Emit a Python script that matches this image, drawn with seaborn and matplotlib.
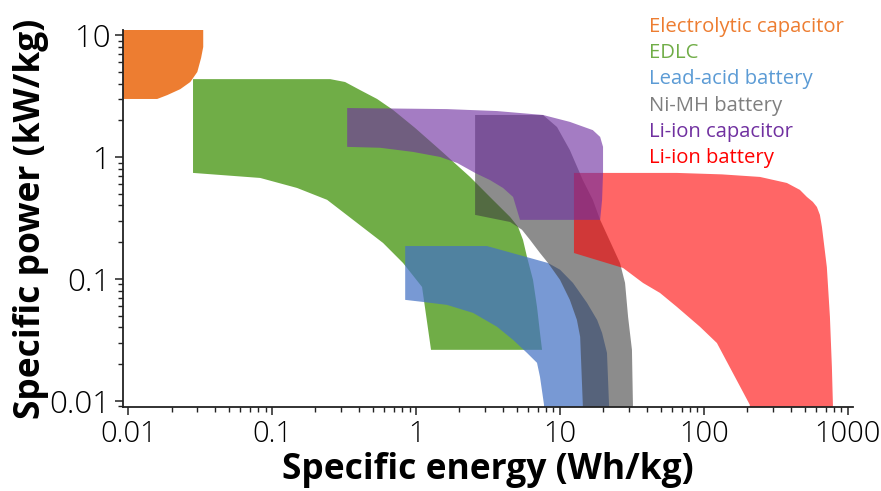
import matplotlib
matplotlib.use("Agg")
import matplotlib.pyplot as plt
from matplotlib.ticker import LogLocator, FuncFormatter, NullFormatter
import seaborn as sns

# Ragone plot: specific energy (Wh/kg) vs specific power (kW/kg)
series_names = ["Electrolytic capacitor", "EDLC", "Lead-acid battery",
                "Ni-MH battery", "Li-ion capacitor", "Li-ion battery"]

electrolytic_energy = [0.0092, 0.0332, 0.0332, 0.0321, 0.0302, 0.0270, 0.0230, 0.0187, 0.0159, 0.0092]
electrolytic_power = [11.0, 11.0, 7.98, 6.5, 4.98, 4.12, 3.6, 3.22, 2.99, 2.99]

edlc_energy = [0.0282, 0.253, 0.321, 0.408, 0.536, 0.692, 0.984, 1.47, 2.37, 3.26, 4.50, 5.11, 5.53,
               5.90, 6.49, 6.92, 7.26, 7.50, 1.27, 1.10, 0.812, 0.590, 0.365, 0.241, 0.149, 0.0826,
               0.0282]
edlc_power = [4.35, 4.35, 4.12, 3.54, 2.99, 2.43, 1.73, 1.14, 0.686, 0.470, 0.322, 0.267, 0.209,
              0.151, 0.0982, 0.0589, 0.0360, 0.0262, 0.0262, 0.0859, 0.135, 0.197, 0.305, 0.445,
              0.557, 0.673, 0.740]

lead_energy = [0.84, 3.11, 8.26, 10.0, 12.3, 15.4, 18.1, 19.6, 21.2, 21.9, 21.9, 7.74, 7.74,
               7.26, 6.92, 5.90, 4.72, 3.65, 2.49, 1.64, 1.12, 0.84]
lead_power = [0.186, 0.186, 0.135, 0.119, 0.0927, 0.0636, 0.0461, 0.0360, 0.0247, 0.0093, 0.0085,
              0.0085, 0.0093, 0.0157, 0.0205, 0.0247, 0.0316, 0.0405, 0.0526, 0.0612, 0.0647, 0.0673]

nimh_energy = [2.57, 7.62, 9.53, 11.7, 14.4, 16.9, 19.0, 26.1, 28.3, 29.7, 31.6, 32.1, 32.1, 14.4,
               14.4, 13.8, 13.1, 11.7, 10.0, 8.26, 7.26, 6.19, 5.44, 4.50, 2.57]
nimh_power = [2.21, 2.21, 1.76, 1.14, 0.647, 0.445, 0.305, 0.135, 0.0927, 0.0489, 0.0262, 0.0093,
              0.0085, 0.0085, 0.0093, 0.0335, 0.0461, 0.0673, 0.0982, 0.135, 0.163, 0.209, 0.253,
              0.293, 0.335]

licap_energy = [0.332, 1.64, 3.65, 7.62, 11.7, 16.9, 19.0, 19.9, 19.9, 19.6, 19.0, 5.27, 4.72,
                4.02, 3.26, 2.57, 1.93, 1.47, 0.953, 0.562, 0.332]
licap_power = [2.52, 2.47, 2.38, 2.21, 1.94, 1.66, 1.46, 1.21, 0.740, 0.445, 0.305, 0.305, 0.470,
               0.557, 0.647, 0.740, 0.893, 1.0, 1.10, 1.19, 1.21]

libat_energy = [12.5, 64.9, 133, 245, 377, 464, 519, 571, 609, 639, 660, 714, 750, 774, 787, 787,
                208, 208, 123, 93.8, 64.9, 49.5, 37.7, 27.4, 12.5]
libat_power = [0.740, 0.740, 0.720, 0.686, 0.612, 0.537, 0.470, 0.428, 0.389, 0.335, 0.267, 0.125,
               0.0489, 0.0190, 0.0093, 0.0085, 0.0085, 0.0093, 0.0298, 0.0405, 0.0589, 0.0767,
               0.0927, 0.123, 0.163]

fill_colors = ["#ED7D31", "#70AD47", "#4472C4", "#404040", "#7030A0", "#FF0000"]
fill_alphas = [1.0, 1.0, 0.72, 0.6, 0.63, 0.6]
label_colors = ["#ED7D31", "#70AD47", "#5B9BD5", "#7F7F7F", "#7030A0", "#FF0000"]

x_ticks = [0.01, 0.1, 1, 10, 100, 1000]
y_ticks = [0.01, 0.1, 1, 10]

sns.set_theme(style="ticks")
plt.rcParams["font.family"] = ["Open Sans", "DejaVu Sans"]

fig = plt.figure(figsize=(8.81, 4.91), dpi=100)
ax = fig.add_axes([123 / 881, 1 - 407 / 491, (853 - 123) / 881, (407 - 30) / 491])

regions = [
    (electrolytic_energy, electrolytic_power),
    (edlc_energy, edlc_power),
    (lead_energy, lead_power),
    (nimh_energy, nimh_power),
    (libat_energy, libat_power),
    (licap_energy, licap_power),
]
order = [0, 1, 2, 3, 5, 4]
for (xs, ys), idx in zip(regions, order):
    ax.fill(xs, ys, color=fill_colors[idx], alpha=fill_alphas[idx], lw=0, zorder=2)

ax.set_xscale("log")
ax.set_yscale("log")
ax.set_xlim(0.0092, 1085)
ax.set_ylim(0.0089, 11.0)

ax.xaxis.set_major_locator(LogLocator(base=10))
ax.yaxis.set_major_locator(LogLocator(base=10))
ax.xaxis.set_minor_locator(LogLocator(base=10, subs=range(2, 10)))
ax.yaxis.set_minor_locator(LogLocator(base=10, subs=range(2, 10)))
ax.set_xticks(x_ticks)
ax.set_yticks(y_ticks)
ax.xaxis.set_major_formatter(FuncFormatter(lambda v, p: f"{v:g}"))
ax.yaxis.set_major_formatter(FuncFormatter(lambda v, p: f"{v:g}"))
ax.xaxis.set_minor_formatter(NullFormatter())
ax.yaxis.set_minor_formatter(NullFormatter())

sns.despine(ax=ax)
for side in ("left", "bottom"):
    ax.spines[side].set_linewidth(1.3)
    ax.spines[side].set_color("#222222")
ax.tick_params(which="major", length=6, width=1.1, color="#222222",
               labelcolor="#000000", pad=3)
ax.tick_params(axis="x", which="major", labelsize=21)
ax.tick_params(axis="y", which="major", labelsize=22.5)
ax.tick_params(which="minor", length=3.5, width=1.0, color="#222222")
for lab in ax.get_xticklabels() + ax.get_yticklabels():
    lab.set_fontweight("light")

ax.set_xlabel("Specific energy (Wh/kg)", fontsize=25.5, fontweight="bold",
              color="#000000", labelpad=2)
ax.set_ylabel("Specific power (kW/kg)", fontsize=25.5, fontweight="bold",
              color="#000000", labelpad=0)

line_y = [27, 53, 79, 106, 132, 158]
for name, col, yy in zip(series_names, label_colors, line_y):
    fig.text(649 / 881, 1 - yy / 491, name, color=col, fontsize=14.6,
             ha="left", va="center")

fig.savefig("out.png", dpi=100)
